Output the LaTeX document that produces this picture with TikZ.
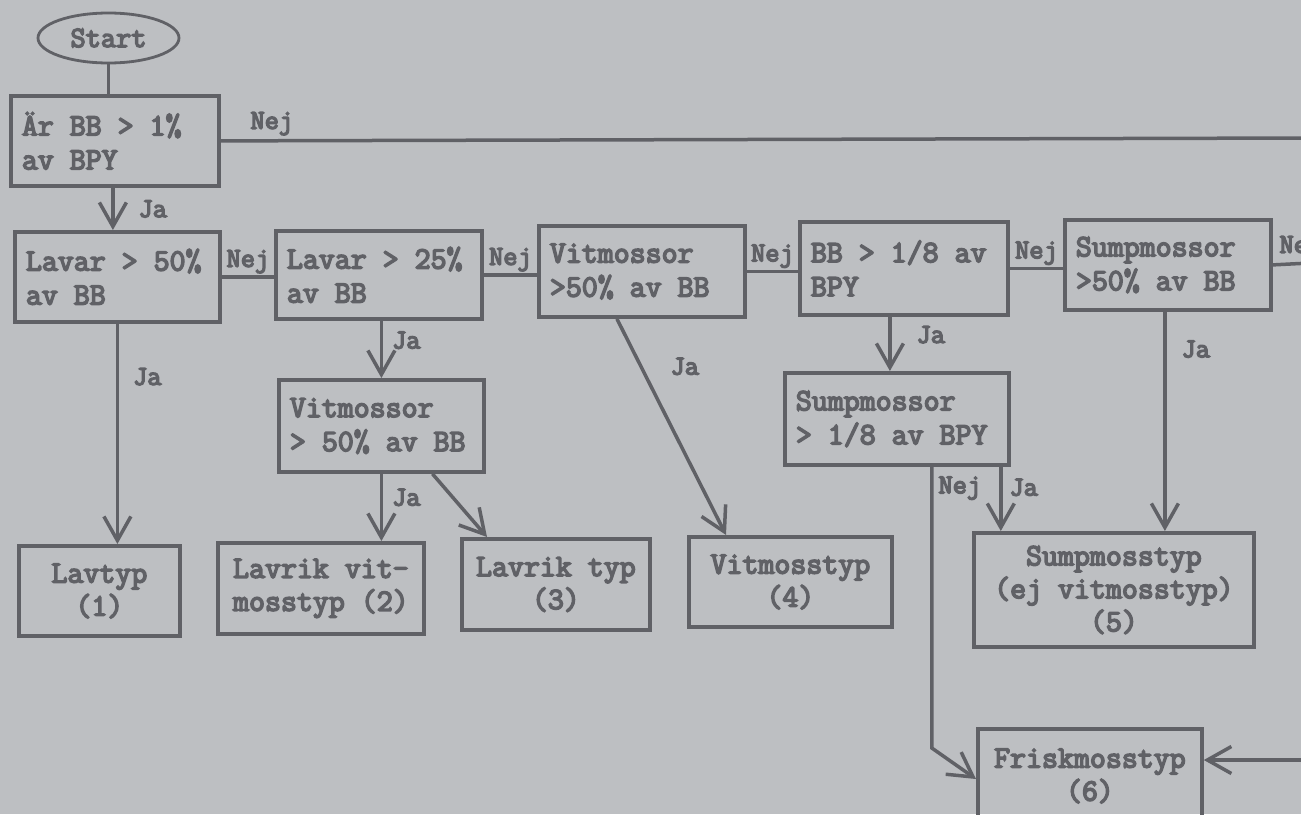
\documentclass[tikz,border=0pt]{standalone}
\usepackage{fontspec}
\newfontfamily\boxfont{Latin Modern Mono}[FakeBold=5]
\usepackage{tikz}
\usetikzlibrary{shapes.geometric, arrows.meta}
\definecolor{paper}{RGB}{189,191,194}
\definecolor{ink}{RGB}{96,97,102}
\tikzset{
  qbox/.style={
    draw=ink, line width=3.8pt, anchor=north west, align=flush left,
    inner xsep=11pt, inner ysep=0pt, text width=#1, text=ink,
    font=\fontsize{31}{34}\selectfont\boxfont
  },
  rbox/.style={
    draw=ink, line width=3.8pt, anchor=north west, align=center,
    inner sep=0pt, text=ink,
    font=\fontsize{31}{33}\selectfont\boxfont
  },
  link/.style={draw=ink, line width=3.5pt},
  flow/.style={
    link,
    -{Straight Barb[length=24pt, width=27pt]}
  },
  lbl/.style={text=ink, inner sep=1pt, font=\fontsize{27.5}{27.5}\selectfont\boxfont}
}

\begin{document}
\begin{tikzpicture}[x=1pt, y=-1pt]
\useasboundingbox (0,0) rectangle (1301,814);
\fill[paper] (0,0) rectangle (1301,814);

\node[draw=ink, ellipse, line width=2.8pt, minimum width=141pt, minimum height=50pt, inner sep=0pt,
      text=ink, font=\fontsize{29.5}{29.5}\selectfont\boxfont] (start) at (108.5,38) {Start};

\node[qbox=186pt, minimum height=90pt] (b1) at (9,94) {Är BB > 1\%\\av BPY};
\node[qbox=183pt, minimum height=90pt] (b2) at (13,230) {Lavar > 50\%\\av BB};
\node[qbox=184pt, minimum height=88pt] (b3) at (274,229) {Lavar > 25\%\\av BB};
\node[qbox=184pt, minimum height=91pt] (b4) at (537,224) {Vitmossor\\>50\% av BB};
\node[qbox=186pt, minimum height=93pt] (b5) at (798,220) {BB > 1/8 av\\BPY};
\node[qbox=184pt, minimum height=90pt] (b6) at (1063,218) {Sumpmossor\\>50\% av BB};
\node[qbox=183pt, minimum height=92pt] (b7) at (277,378) {Vitmossor\\> 50\% av BB};
\node[qbox=202pt, minimum height=92pt] (b8) at (783,371) {Sumpmossor\\> 1/8 av BPY};

\node[rbox, minimum width=161pt, minimum height=90pt] (lav1) at (17,544) {Lavtyp\\(1)};
\node[rbox, minimum width=206pt, minimum height=91pt] (lv2) at (216,541) {Lavrik vit-\\mosstyp (2)};
\node[rbox, minimum width=188pt, minimum height=91pt] (lt3) at (460,537) {Lavrik typ\\(3)};
\node[rbox, minimum width=203pt, minimum height=90pt] (vit4) at (687,535) {Vitmosstyp\\(4)};
\node[rbox, minimum width=280pt, minimum height=114pt] (sump5) at (972,531) {Sumpmosstyp\\(ej vitmosstyp)\\(5)};
\node[rbox, minimum width=224pt, minimum height=94pt] (fr6) at (976,727) {Friskmosstyp\\(6)};

\coordinate (rim1) at (1310,138);
\coordinate (rim2) at (1310,263);
\coordinate (rim3) at (1310,760);
\coordinate (nejtop) at ([xshift=-79pt]b8.south east);
\coordinate (nejbend) at ([yshift=-21pt]fr6.north west);

\path (start.south) edge[link] (start.south |- b1.north)
      ([xshift=-2pt]b1.south) edge[flow] node[lbl, right, xshift=23pt] {Ja} ([xshift=-2pt]b1.south |- b2.north)
      (b1.east) edge[link] node[lbl, pos=0, anchor=south west, xshift=27pt, yshift=3pt] {Nej} (rim1);

\path (b2.east) edge[link] node[lbl, midway, above, yshift=1pt] {Nej} (b2.east -| b3.west)
      (b3.east) edge[link] node[lbl, midway, above, yshift=1pt] {Nej} (b3.east -| b4.west)
      (b4.east) edge[link] node[lbl, midway, above, yshift=1pt] {Nej} (b4.east -| b5.west)
      (b5.east) edge[link] node[lbl, midway, above, yshift=1pt] {Nej} (b5.east -| b6.west)
      (b6.east) edge[link] node[lbl, pos=0, anchor=south west, xshift=4pt, yshift=3pt] {Nej} (rim2);

\path (b2.south) edge[flow] node[lbl, pos=0.24, right, xshift=13pt] {Ja} (b2.south |- lav1.north)
      (b3.south -| b7.north) edge[flow] node[lbl, pos=0.34, right, xshift=8pt] {Ja} (b7.north)
      (b7.south) edge[flow] node[lbl, pos=0.35, right, xshift=8pt] {Ja} (b7.south |- lv2.north)
      ([xshift=51pt]b7.south) edge[flow] ([xshift=27pt]lt3.north west)
      ([xshift=-25pt]b4.south) edge[flow] node[lbl, pos=0.22, right, xshift=27pt] {Ja} ([xshift=39pt]vit4.north west)
      ([xshift=-14pt]b5.south) edge[flow] node[lbl, pos=0.33, right, xshift=24pt] {Ja} ([xshift=-14pt]b5.south |- b8.north)
      ([xshift=-3pt]b6.south) edge[flow] node[lbl, pos=0.17, right, xshift=14pt] {Ja} ([xshift=-3pt]b6.south |- sump5.north)
      ([xshift=-10pt]b8.south east) edge[flow] node[lbl, pos=0.32, right, xshift=6pt] {Ja} ([xshift=-10pt]b8.south east |- sump5.north)
      (rim3) edge[flow] (rim3 -| fr6.east);

\draw[flow] (nejtop) node[lbl, anchor=north west, xshift=4pt, yshift=-7pt] {Nej}
  -- (nejtop |- nejbend) -- ([yshift=-52pt]fr6.north west);
\end{tikzpicture}
\end{document}
